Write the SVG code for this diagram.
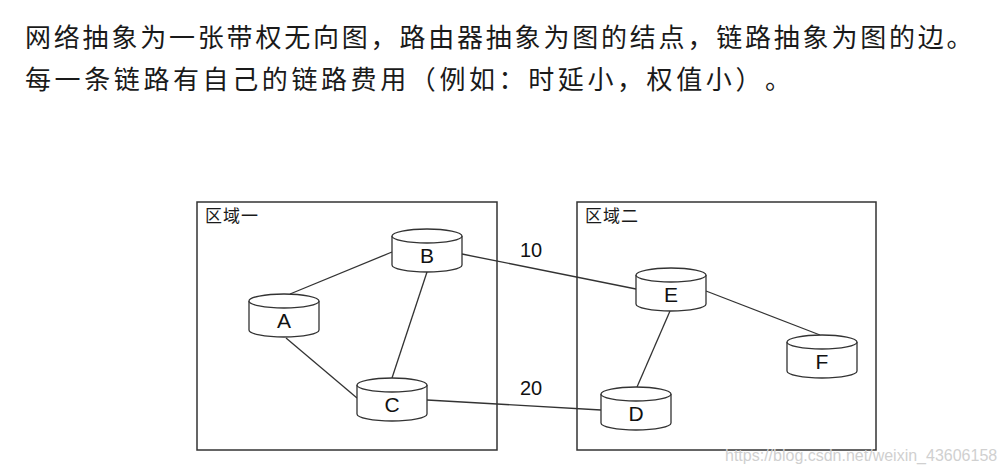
<svg xmlns="http://www.w3.org/2000/svg" width="1006" height="474" viewBox="0 0 1006 474">
<style>
.title{font-family:"Noto Sans CJK SC","Noto Sans",sans-serif;font-size:26px;letter-spacing:2.8px;fill:#1a1a1a;text-spacing-trim:space-all}
.region{fill:#fff;stroke:#333;stroke-width:1.5}
.rlabel{font-family:"Noto Sans CJK SC","Noto Sans",sans-serif;font-size:17px;letter-spacing:1px;fill:#1a1a1a}
.cyl{fill:#fff;stroke:#333;stroke-width:1.3}
.nlabel{font-family:"Liberation Sans",Arial,sans-serif;font-size:21px;fill:#111;text-anchor:middle}
.edge{stroke:#333;stroke-width:1.3;fill:none}
.elabel{font-family:"Liberation Sans",Arial,sans-serif;font-size:20px;fill:#111;text-anchor:middle}
.wm{font-family:"Liberation Sans",Arial,sans-serif;font-size:16px;fill:#d0d0d0}
</style>
<defs>
<g id="cyl">
<path class="cyl" d="M0,7 A35,7 0 0 1 70,7 V36 A35,7 0 0 1 0,36 Z"/>
<path class="cyl" fill="none" d="M0,7 A35,7 0 0 0 70,7"/>
</g>
</defs>
<rect width="1006" height="474" fill="#fff"/>
<g id="title">
<text class="title" x="25" y="47">网络抽象为一张带权无向图，路由器抽象为图的结点，链路抽象为图的边。</text>
<text class="title" x="25" y="89" style="letter-spacing:3.6px">每一条链路有自己的链路费用（例如：时延小，权值小）。</text>
</g>
<g id="region1">
<rect class="region" x="197" y="202" width="300" height="248"/>
<text class="rlabel" x="205" y="222">区域一</text>
</g>
<g id="region2">
<rect class="region" x="577" y="202" width="299" height="248"/>
<text class="rlabel" x="585" y="222">区域二</text>
</g>
<g id="connectors">
<line class="edge" x1="290" y1="294" x2="392" y2="252"/>
<line class="edge" x1="427" y1="272" x2="392" y2="378"/>
<line class="edge" x1="286" y1="338" x2="357" y2="398"/>
<line class="edge" x1="462" y1="254" x2="636" y2="289"/>
<line class="edge" x1="427" y1="400" x2="601" y2="410"/>
<line class="edge" x1="670" y1="311" x2="637" y2="387"/>
<line class="edge" x1="706" y1="291" x2="820" y2="335"/>
<text class="elabel" x="531" y="257">10</text>
<text class="elabel" x="531" y="395">20</text>
</g>
<g id="node-A"><use href="#cyl" x="249" y="294"/><text class="nlabel" x="284" y="328">A</text></g>
<g id="node-B"><use href="#cyl" x="392" y="229"/><text class="nlabel" x="427" y="263">B</text></g>
<g id="node-C"><use href="#cyl" x="357" y="378"/><text class="nlabel" x="392" y="412">C</text></g>
<g id="node-D"><use href="#cyl" x="601" y="387"/><text class="nlabel" x="636" y="421">D</text></g>
<g id="node-E"><use href="#cyl" x="636" y="268"/><text class="nlabel" x="671" y="302">E</text></g>
<g id="node-F"><use href="#cyl" x="787" y="335"/><text class="nlabel" x="822" y="369">F</text></g>
<text class="wm" x="725" y="461">https://blog.csdn.net/weixin_43606158</text>
</svg>
